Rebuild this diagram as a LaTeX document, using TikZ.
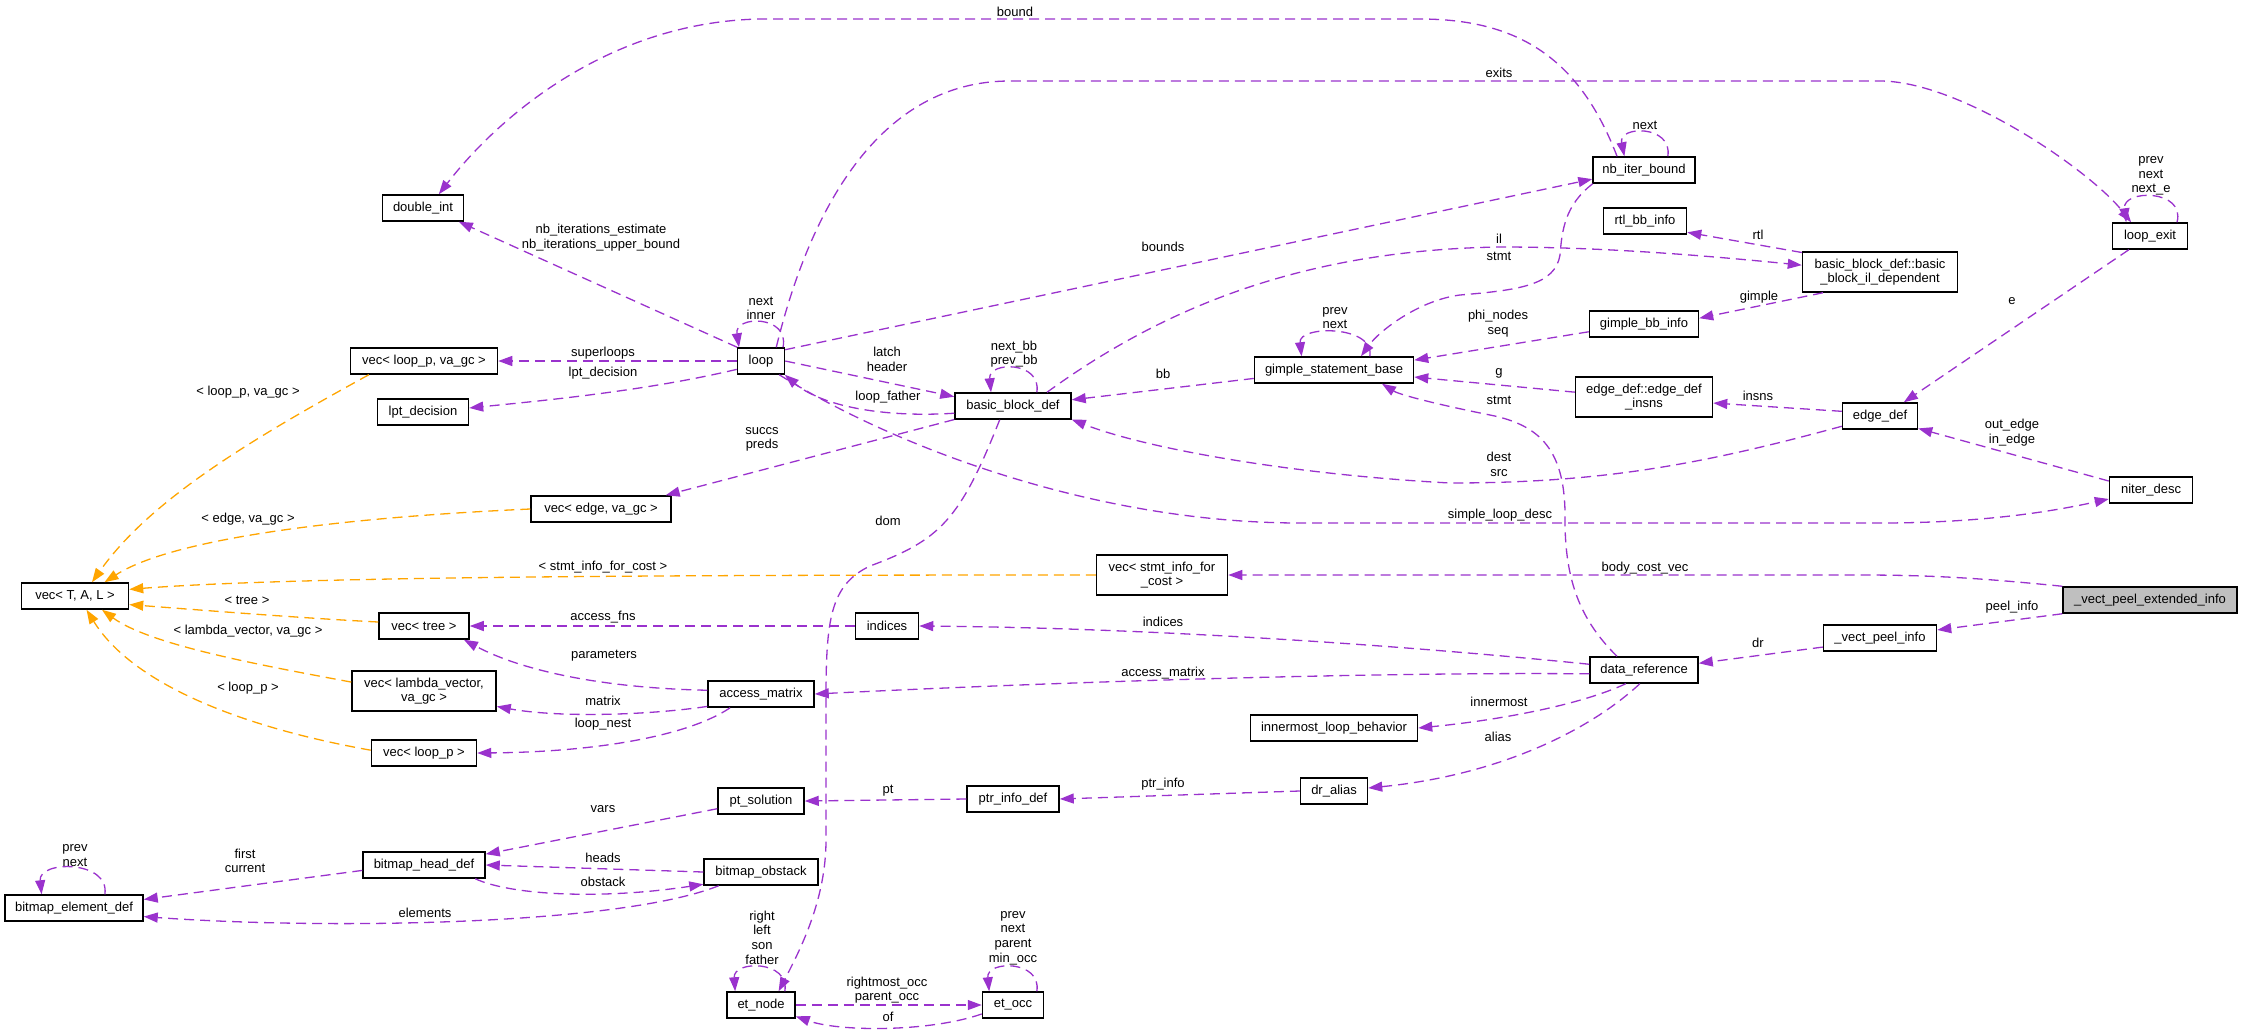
\documentclass[tikz,border=0pt]{standalone}
\usepackage{fontspec}
\setmainfont{Liberation Sans}
\usetikzlibrary{arrows.meta}
\definecolor{edgep}{RGB}{154,50,205}
\definecolor{edgeo}{RGB}{255,165,0}
\definecolor{mainfill}{RGB}{191,191,191}
\begin{document}
\begin{tikzpicture}[x=0.5pt,y=-0.5pt,
  every node/.style={font=\fontsize{6.5pt}{7.3pt}\selectfont},
  box/.style={draw=black,line width=0.75pt,fill=white,inner sep=1pt,minimum height=13pt,align=center},
  box2/.style={box,minimum height=20pt},
  lbl/.style={inner sep=0pt,align=center},
  pe/.style={draw=edgep,line width=0.65pt,dash pattern=on 5pt off 3pt,-{Triangle[length=7pt,width=5pt]}},
  oe/.style={pe,draw=edgeo}]
\useasboundingbox (0,0) rectangle (2243,1034);
% nodes
\node[box,minimum width=40.5pt] (dint) at (423,208) {double\_int};
\node[box,minimum width=73.5pt] (vlgc) at (424,361) {vec< loop\_p, va\_gc >};
\node[box,minimum width=45.5pt] (lpt) at (423,412) {lpt\_decision};
\node[box,minimum width=70pt] (vedge) at (601,509) {vec< edge, va\_gc >};
\node[box,minimum width=53.5pt] (vtal) at (75,596) {vec< T, A, L >};
\node[box,minimum width=45pt] (vtree) at (424,626) {vec< tree >};
\node[box2,minimum width=72pt] (vlam) at (424,691) {vec< lambda\_vector,\\va\_gc >};
\node[box,minimum width=52.5pt] (vlp) at (424,753) {vec< loop\_p >};
\node[box,minimum width=61pt] (bhd) at (424,865) {bitmap\_head\_def};
\node[box,minimum width=69pt] (bed) at (74,908) {bitmap\_element\_def};
\node[box,minimum width=23.5pt] (loop) at (761,361) {loop};
\node[box,minimum width=58pt] (bbd) at (1013,406) {basic\_block\_def};
\node[box,minimum width=53pt] (am) at (761,694) {access\_matrix};
\node[box,minimum width=31.5pt] (ind) at (887,626) {indices};
\node[box2,minimum width=65.5pt] (vsic) at (1162,575) {vec< stmt\_info\_for\\\_cost >};
\node[box,minimum width=43pt] (pts) at (761,801) {pt\_solution};
\node[box,minimum width=57pt] (bo) at (761,872) {bitmap\_obstack};
\node[box,minimum width=34pt] (etn) at (761,1005) {et\_node};
\node[box,minimum width=46pt] (pid) at (1013,799) {ptr\_info\_def};
\node[box,minimum width=30.5pt] (eto) at (1013,1005) {et\_occ};
\node[box,minimum width=79.5pt] (gsb) at (1334,370) {gimple\_statement\_base};
\node[box,minimum width=51pt] (nbi) at (1644,170) {nb\_iter\_bound};
\node[box,minimum width=41.5pt] (rtl) at (1645,221) {rtl\_bb\_info};
\node[box2,minimum width=77.5pt] (ild) at (1880,272) {basic\_block\_def::basic\\\_block\_il\_dependent};
\node[box,minimum width=54.5pt] (gbi) at (1644,324) {gimple\_bb\_info};
\node[box2,minimum width=68.5pt] (edi) at (1644,397) {edge\_def::edge\_def\\\_insns};
\node[box,minimum width=37.5pt] (ed) at (1880,416) {edge\_def};
\node[box,minimum width=37.5pt] (lex) at (2150,236) {loop\_exit};
\node[box,minimum width=41.5pt] (nd) at (2151,490) {niter\_desc};
\node[box,minimum width=87pt,fill=mainfill] (vpe) at (2150,600) {\_vect\_peel\_extended\_info};
\node[box,minimum width=56.5pt] (vpi) at (1880,638) {\_vect\_peel\_info};
\node[box,minimum width=54pt] (dref) at (1644,670) {data\_reference};
\node[box,minimum width=83.5pt] (ilb) at (1334,728) {innermost\_loop\_behavior};
\node[box,minimum width=33.5pt] (dra) at (1334,791) {dr\_alias};
% edges right part
\draw[pe] (vpe.north west) .. controls (1980,578) and (1930,575) .. (1860,575) -- (vsic.east);
\draw[pe] (vpe.south west) -- (vpi.8);
\draw[pe] (vpi.189) -- (dref.7);
\draw[pe] (dref.174) .. controls (1400,645) and (1150,628) .. (ind.east);
\draw[pe] (dref.184) .. controls (1400,672) and (1100,680) .. (am.east);
\draw[pe] (dref.217) .. controls (1580,705) and (1500,720) .. (ilb.east);
\draw[pe] (dref.253) .. controls (1590,730) and (1500,775) .. (dra.5);
\draw[pe] (dref.153) .. controls (1580,620) and (1565,580) .. (1565,520) .. controls (1566,450) and (1540,425) .. (1490,415) .. controls (1440,405) and (1400,395) .. (gsb.-16);
\draw[pe] (dra.west) -- (pid.east);
\draw[pe] (pid.west) -- (pts.east);
\draw[pe] (pts.190) -- (bhd.10);
\draw[pe] (bo.west) -- (bhd.east);
\draw[pe] (bhd.-15) .. controls (510,895) and (600,900) .. (bo.192);
\draw[pe] (bhd.185) -- (bed.7);
\draw[pe] (bo.198) .. controls (620,925) and (330,930) .. (bed.-7);
\draw[pe] (bed.24) .. controls (110,860) and (38,860) .. (bed.157);
\draw[pe] (etn.30) .. controls (790,960) and (733,960) .. (etn.152);
\draw[pe] (etn.east) -- (eto.west);
\draw[pe] (eto.196) .. controls (930,1032) and (840,1032) .. (etn.-18);
\draw[pe] (eto.30) .. controls (1042,960) and (986,960) .. (eto.150);
\draw[pe] (bbd.226) .. controls (960,520) and (940,540) .. (870,566) .. controls (830,585) and (826,620) .. (826,700) -- (826,840) .. controls (826,900) and (800,950) .. (etn.38);
\draw[pe] (am.176) .. controls (600,688) and (520,670) .. (vtree.-19);
\draw[pe] (am.193) .. controls (650,715) and (560,718) .. (vlam.-12);
\draw[pe] (am.204) .. controls (690,735) and (600,752) .. (vlp.east);
\draw[pe] (ind.west) -- (vtree.east);
% orange template edges
\draw[oe] (vlgc.194) .. controls (250,440) and (150,500) .. (vtal.39);
\draw[oe] (vedge.west) .. controls (330,518) and (170,540) .. (vtal.25);
\draw[oe] (vsic.west) .. controls (700,575) and (300,576) .. (vtal.7);
\draw[oe] (vtree.175) .. controls (300,618) and (200,610) .. (vtal.-9);
\draw[oe] (vlam.173) .. controls (260,665) and (150,645) .. (vtal.-27);
\draw[oe] (vlp.177) .. controls (230,725) and (130,680) .. (vtal.-50);
% loop and friends
\draw[pe] (loop.west) -- (vlgc.east);
\draw[pe] (loop.199) .. controls (650,390) and (550,400) .. (lpt.5);
\draw[pe] (loop.150) -- (dint.-21);
\draw[pe] (loop.32) .. controls (790,315) and (734,315) .. (loop.148);
\draw[pe] (loop.east) -- (bbd.171);
\draw[pe] (bbd.187) .. controls (880,418) and (820,405) .. (loop.-30);
\draw[pe] (bbd.30) .. controls (1042,361) and (988,361) .. (bbd.148);
\draw[pe] (bbd.193) -- (vedge.12);
\draw[pe] (gsb.186) -- (bbd.6);
\draw[pe] (gsb.21) .. controls (1375,325) and (1298,325) .. (gsb.157);
\draw[pe] (gbi.188) -- (gsb.7);
\draw[pe] (edi.176) -- (gsb.-5);
\draw[pe] (nbi.195) .. controls (1565,205) and (1562,230) .. (1560,255) .. controls (1555,285) and (1520,290) .. (1460,295) .. controls (1420,300) and (1380,330) .. (gsb.27);
\draw[pe] (nbi.153) .. controls (1580,60) and (1520,19) .. (1420,19) -- (760,19) .. controls (610,22) and (500,115) .. (dint.41);
\draw[pe] (nbi.30) .. controls (1673,125) and (1618,125) .. (nbi.145);
\draw[pe] (loop.25) -- (nbi.190);
\draw[pe] (loop.42) .. controls (800,250) and (860,81) .. (1010,81) -- (1880,81) .. controls (1960,81) and (2090,170) .. (lex.144);
\draw[pe] (bbd.22) .. controls (1160,310) and (1300,250) .. (1500,247) .. controls (1600,247) and (1700,255) .. (ild.175);
\draw[pe] (ild.166) -- (rtl.-15);
\draw[pe] (ild.200) -- (gbi.6);
\draw[pe] (lex.213) -- (ed.30);
\draw[pe] (lex.27) .. controls (2186,189) and (2122,189) .. (lex.150);
\draw[pe] (nd.168) -- (ed.-18);
\draw[pe] (ed.173) -- (edi.-5);
\draw[pe] (ed.195) .. controls (1700,465) and (1600,483) .. (1450,483) .. controls (1300,475) and (1150,450) .. (bbd.-13);
\draw[pe] (loop.-37) .. controls (900,450) and (1100,523) .. (1300,523) -- (1880,523) .. controls (1980,523) and (2050,512) .. (nd.192);
% labels
\node[lbl] (l1) at (1015,12) {bound};
\node[lbl] (l2) at (1499,73) {exits};
\node[lbl] (l3) at (1645,125) {next};
\node[lbl] (l4) at (2151,176) {prev\\next\\next\_e};
\node[lbl] (l5) at (1758,235) {rtl};
\node[lbl] (l6) at (1499,239) {il};
\node[lbl] (l7) at (1499,256) {stmt};
\node[lbl] (l8) at (601,237.5) {nb\_iterations\_estimate\\nb\_iterations\_upper\_bound};
\node[lbl] (l9) at (1163,247) {bounds};
\node[lbl] (l10) at (1759,297) {gimple};
\node[lbl] (l11) at (761,308.5) {next\\inner};
\node[lbl] (l12) at (1335,318) {prev\\next};
\node[lbl] (l13) at (1498,323.5) {phi\_nodes\\seq};
\node[lbl] (l14) at (2012,301) {e};
\node[lbl] (l15) at (603,353) {superloops};
\node[lbl] (l16) at (1014,354) {next\_bb\\prev\_bb};
\node[lbl] (l17) at (887,359.5) {latch\\header};
\node[lbl] (l18) at (1499,373) {g};
\node[lbl] (l19) at (1163,374) {bb};
\node[lbl] (l20) at (603,373) {lpt\_decision};
\node[lbl] (l21) at (248,392) {< loop\_p, va\_gc >};
\node[lbl] (l22) at (1758,396) {insns};
\node[lbl] (l23) at (888,397) {loop\_father};
\node[lbl] (l24) at (1499,400) {stmt};
\node[lbl] (l25) at (2012,432.5) {out\_edge\\in\_edge};
\node[lbl] (l26) at (762,439.5) {succs\\preds};
\node[lbl] (l27) at (1499,464.5) {dest\\src};
\node[lbl] (l28) at (1500,515) {simple\_loop\_desc};
\node[lbl] (l29) at (248,519) {< edge, va\_gc >};
\node[lbl] (l30) at (888,521) {dom};
\node[lbl] (l31) at (603,567) {< stmt\_info\_for\_cost >};
\node[lbl] (l32) at (1645,568) {body\_cost\_vec};
\node[lbl] (l33) at (247,600) {< tree >};
\node[lbl] (l34) at (2012,607) {peel\_info};
\node[lbl] (l35) at (603,617) {access\_fns};
\node[lbl] (l36) at (1163,622) {indices};
\node[lbl] (l37) at (248,631) {< lambda\_vector, va\_gc >};
\node[lbl] (l38) at (1758,643) {dr};
\node[lbl] (l39) at (604,656) {parameters};
\node[lbl] (l40) at (1163,673) {access\_matrix};
\node[lbl] (l41) at (248,688) {< loop\_p >};
\node[lbl] (l42) at (603,701) {matrix};
\node[lbl] (l43) at (1499,702) {innermost};
\node[lbl] (l44) at (603,724) {loop\_nest};
\node[lbl] (l45) at (1498,737) {alias};
\node[lbl] (l46) at (1163,784) {ptr\_info};
\node[lbl] (l47) at (888,791) {pt};
\node[lbl] (l48) at (603,809) {vars};
\node[lbl] (l49) at (75,855.5) {prev\\next};
\node[lbl] (l50) at (245,861) {first\\current};
\node[lbl] (l51) at (603,858) {heads};
\node[lbl] (l52) at (603,882) {obstack};
\node[lbl] (l53) at (425,913) {elements};
\node[lbl] (l54) at (762,937.5) {right\\left\\son\\father};
\node[lbl] (l55) at (1013,938) {prev\\next\\parent\\min\_occ};
\node[lbl] (l56) at (887,990) {rightmost\_occ\\parent\_occ};
\node[lbl] (l57) at (888,1017) {of};
\end{tikzpicture}
\end{document}
